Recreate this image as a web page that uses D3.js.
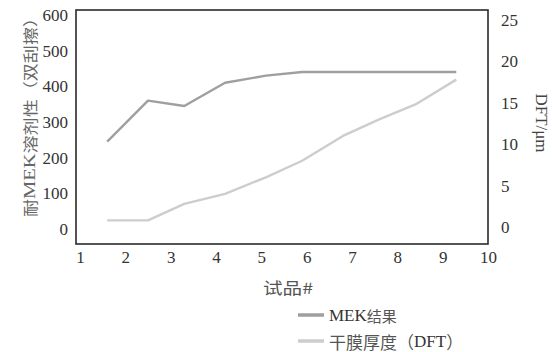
<!DOCTYPE html>
<html><head><meta charset="utf-8">
<script src="https://cdn.jsdelivr.net/npm/d3@7"></script>
<style>
body{margin:0;background:#fff;}
svg{display:block;}
</style></head>
<body>
<svg id="c" width="552" height="352"></svg>
<script>
// data
const trialPos = [1.6, 2.5, 3.3, 4.2, 5.1, 5.9, 6.8, 7.6, 8.4, 9.3];
const mekValues = [245, 360, 345, 410, 430, 440, 440, 440, 440, 440];
const dftValues = [0.8, 0.8, 2.8, 4, 6, 8, 11, 13, 14.8, 17.8];
const xTicks = [1, 2, 3, 4, 5, 6, 7, 8, 9, 10];
const leftTicks = [0, 100, 200, 300, 400, 500, 600];
const rightTicks = [0, 5, 10, 15, 20, 25];
const seriesParts = [
  [["MEK", "s"], ["结果", "c"]],
  [["干膜厚度（", "c"], ["DFT", "s"], ["）", "c"]]
];
const seriesColors = ["#9f9f9f", "#cdcdcd"];

const SERIF = '"Liberation Serif","Times New Roman","DejaVu Serif",serif';
const CJK = '"Noto Sans CJK SC","Noto Sans",sans-serif';
const svg = d3.select("#c");

const x = d3.scaleLinear().domain([1, 10]).range([80, 488]);
const yL = d3.scaleLinear().domain([0, 600]).range([229, 15]);
const yR = d3.scaleLinear().domain([0, 25]).range([227, 20]);

// frame
svg.append("rect").attr("x", 76).attr("y", 10).attr("width", 412).attr("height", 234)
  .attr("fill", "none").attr("stroke", "#2a2a2a").attr("stroke-width", 1.6);

// axes (labels only)
const axL = svg.append("g").attr("transform", "translate(68,0)")
  .call(d3.axisLeft(yL).tickValues(leftTicks).tickSize(0).tickPadding(0));
const axR = svg.append("g").attr("transform", "translate(501,0)")
  .call(d3.axisRight(yR).tickValues(rightTicks).tickSize(0).tickPadding(0));
const axB = svg.append("g").attr("transform", "translate(0,251)")
  .call(d3.axisBottom(x).tickValues(xTicks).tickSize(0).tickPadding(0));
[axL, axR, axB].forEach(a => {
  a.select(".domain").remove();
  a.selectAll("text").style("font-family", SERIF).style("font-size", "17px").attr("fill", "#333");
});
axB.selectAll("text").attr("dy", "0.71em");

// lines
const lineL = d3.line().x((d, i) => x(trialPos[i])).y(d => yL(d));
const lineR = d3.line().x((d, i) => x(trialPos[i])).y(d => yR(d));
svg.append("path").datum(dftValues).attr("d", lineR).attr("fill", "none")
  .attr("stroke", seriesColors[1]).attr("stroke-width", 2.4).attr("stroke-linejoin", "round");
svg.append("path").datum(mekValues).attr("d", lineL).attr("fill", "none")
  .attr("stroke", seriesColors[0]).attr("stroke-width", 2.4).attr("stroke-linejoin", "round");

// axis titles
const lt = svg.append("text").attr("transform", "translate(29,113) rotate(-90)")
  .attr("text-anchor", "middle").attr("dominant-baseline", "central")
  .attr("fill", "#666").style("font-size", "15px").style("font-family", CJK)
  .attr("textLength", 208).attr("lengthAdjust", "spacingAndGlyphs");
lt.append("tspan").text("耐");
lt.append("tspan").style("font-family", SERIF).style("font-size", "17px").text("MEK");
lt.append("tspan").text("溶剂性（双刮擦）");

svg.append("text").attr("transform", "translate(541,123) rotate(90)")
  .attr("text-anchor", "middle").attr("dominant-baseline", "central")
  .style("font-family", SERIF).style("font-size", "17px").attr("fill", "#444")
  .text("DFT/μm");
svg.append("text").attr("x", 288).attr("y", 287)
  .attr("text-anchor", "middle").attr("dominant-baseline", "central")
  .style("font-family", CJK).style("font-size", "16px").attr("fill", "#555")
  .attr("textLength", 50).attr("lengthAdjust", "spacingAndGlyphs")
  .text("试品#");

// legend
const leg = svg.append("g");
seriesColors.forEach((c, i) => {
  const yy = 315 + i * 26;
  leg.append("line").attr("x1", 298).attr("x2", 324).attr("y1", yy).attr("y2", yy)
    .attr("stroke", c).attr("stroke-width", 3.5);
  const t = leg.append("text").attr("x", 329).attr("y", yy).attr("dominant-baseline", "central")
    .attr("fill", "#333");
  seriesParts[i].forEach(p => {
    t.append("tspan")
      .style("font-family", p[1] === "s" ? SERIF : CJK)
      .style("font-size", p[1] === "s" ? "17px" : (i === 0 ? "15px" : "17px"))
      .attr("fill", p[1] === "s" ? "#333" : "#555")
      .text(p[0]);
  });
});
</script>
</body></html>
